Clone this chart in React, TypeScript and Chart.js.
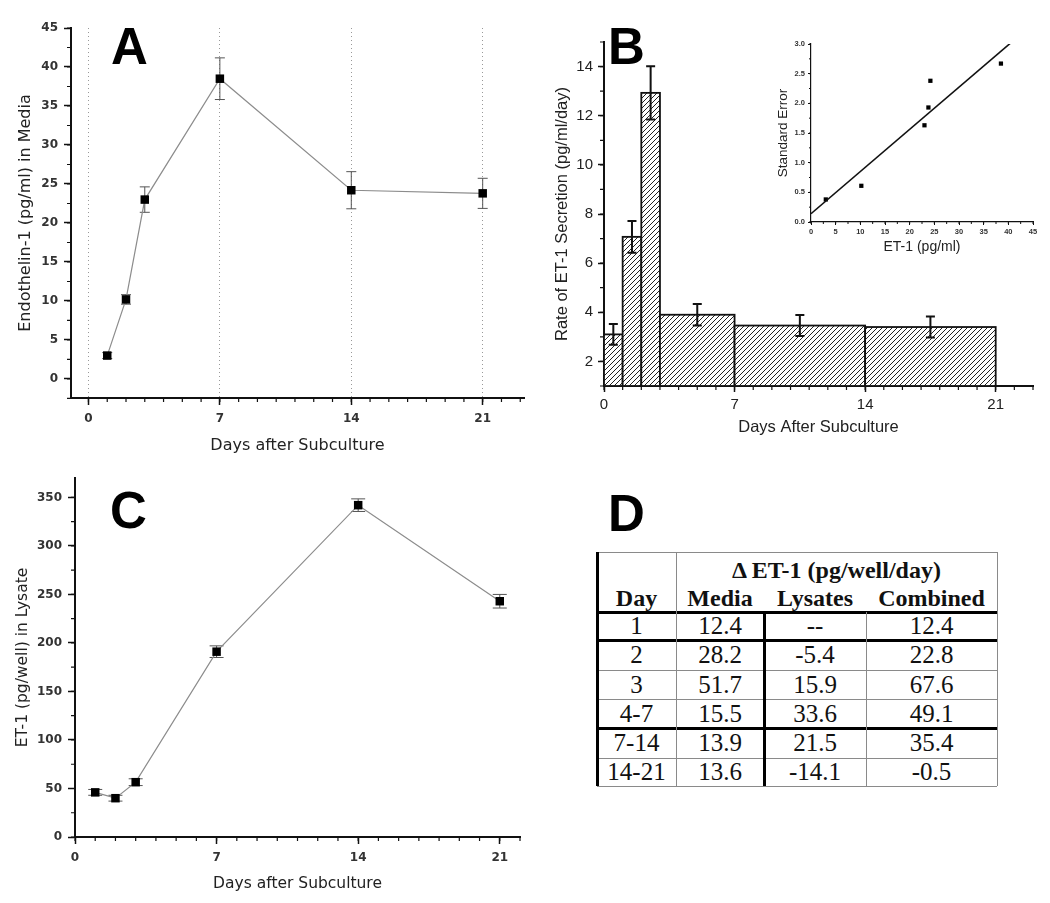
import React, { useEffect, useRef } from 'react';
import { Chart, registerables } from 'chart.js';

Chart.register(...registerables);

// ---------------- data ----------------
const DAYS = [1, 2, 3, 7, 14, 21];
const MEDIA_ET1 = [3.0, 10.2, 23.0, 38.5, 24.2, 23.8];
const MEDIA_SE = [0.38, 0.61, 1.63, 2.67, 2.38, 1.93];

const LYSATE_ET1 = [46, 40, 56.5, 191, 342, 243];
const LYSATE_SE = [3, 3, 3.5, 6, 6.5, 7];

const BIN_START = [0, 1, 2, 3, 7, 14];
const BIN_END = [1, 2, 3, 7, 14, 21];
const RATE = [3.1, 7.07, 12.93, 3.9, 3.46, 3.4];
const RATE_SE = [0.42, 0.65, 1.08, 0.44, 0.43, 0.43];

const FIT_INTERCEPT = 0.14;
const FIT_SLOPE = 0.0711;
const FIT_X = [0, 40.6];

const DAY_TICKS = [0, 7, 14, 21];
const A_Y_TICKS = [0, 5, 10, 15, 20, 25, 30, 35, 40, 45];
const B_Y_TICKS = [2, 4, 6, 8, 10, 12, 14];
const C_Y_TICKS = [0, 50, 100, 150, 200, 250, 300, 350];
const INSET_X_TICKS = [0, 5, 10, 15, 20, 25, 30, 35, 40, 45];
const INSET_Y_TICKS = [0, 0.5, 1.0, 1.5, 2.0, 2.5, 3.0];

const TABLE_DAY = ['1', '2', '3', '4-7', '7-14', '14-21'];
const TABLE_MEDIA = ['12.4', '28.2', '51.7', '15.5', '13.9', '13.6'];
const TABLE_LYSATES = ['--', '-5.4', '15.9', '33.6', '21.5', '-14.1'];
const TABLE_COMBINED = ['12.4', '22.8', '67.6', '49.1', '35.4', '-0.5'];

// ---------------- helpers ----------------
type EB = { x: number[]; y: number[]; err: number[]; cap: number; color: string; width: number; layer: 'before' | 'after' };

function errorBars(o: EB) {
  const draw = (chart: any) => {
    const { ctx } = chart;
    const xs = chart.scales.x;
    const ys = chart.scales.y;
    ctx.save();
    ctx.strokeStyle = o.color;
    ctx.lineWidth = o.width;
    ctx.beginPath();
    for (let i = 0; i < o.x.length; i++) {
      const px = xs.getPixelForValue(o.x[i]);
      const hi = ys.getPixelForValue(o.y[i] + o.err[i]);
      const lo = ys.getPixelForValue(o.y[i] - o.err[i]);
      ctx.moveTo(px, hi);
      ctx.lineTo(px, lo);
      ctx.moveTo(px - o.cap, hi);
      ctx.lineTo(px + o.cap, hi);
      ctx.moveTo(px - o.cap, lo);
      ctx.lineTo(px + o.cap, lo);
    }
    ctx.stroke();
    ctx.restore();
  };
  return {
    id: 'errorBars',
    beforeDatasetsDraw(chart: any) {
      if (o.layer === 'before') draw(chart);
    },
    afterDatasetsDraw(chart: any) {
      if (o.layer === 'after') draw(chart);
    },
  };
}

function histBars(o: { start: number[]; end: number[]; value: number[]; base: number; fill: any; border: string; width: number }) {
  return {
    id: 'histBars',
    beforeDatasetsDraw(chart: any) {
      const { ctx, chartArea } = chart;
      const xs = chart.scales.x;
      const ys = chart.scales.y;
      ctx.save();
      ctx.beginPath();
      ctx.rect(chartArea.left, chartArea.top - 2, chartArea.right - chartArea.left, chartArea.bottom - chartArea.top + 2);
      ctx.clip();
      for (let i = 0; i < o.start.length; i++) {
        const x0 = xs.getPixelForValue(o.start[i]);
        const x1 = xs.getPixelForValue(o.end[i]);
        const y0 = ys.getPixelForValue(o.value[i]);
        const yb = ys.getPixelForValue(o.base);
        ctx.fillStyle = o.fill;
        ctx.fillRect(x0, y0, x1 - x0, yb - y0);
        ctx.strokeStyle = o.border;
        ctx.lineWidth = o.width;
        ctx.strokeRect(x0, y0, x1 - x0, yb - y0);
      }
      ctx.restore();
    },
  };
}

function range(min: number, max: number, step: number) {
  const out: number[] = [];
  for (let v = min; v <= max + 1e-9; v += step) out.push(Math.round(v * 1000) / 1000);
  return out;
}

type MT = { axis: 'x' | 'y'; values: number[]; len: number; width: number };
function minorTicks(list: MT[]) {
  return {
    id: 'minorTicks',
    afterDraw(chart: any) {
      const { ctx, chartArea } = chart;
      ctx.save();
      ctx.strokeStyle = '#111';
      for (const m of list) {
        ctx.lineWidth = m.width;
        ctx.beginPath();
        const sc = chart.scales[m.axis];
        for (const v of m.values) {
          const p = sc.getPixelForValue(v);
          if (m.axis === 'x') {
            if (p < chartArea.left - 0.5 || p > chartArea.right + 0.5) continue;
            ctx.moveTo(p, chartArea.bottom);
            ctx.lineTo(p, chartArea.bottom + m.len);
          } else {
            if (p < chartArea.top - 0.5 || p > chartArea.bottom + 0.5) continue;
            ctx.moveTo(chartArea.left, p);
            ctx.lineTo(chartArea.left - m.len, p);
          }
        }
        ctx.stroke();
      }
      ctx.restore();
    },
  };
}

function hatchPattern(): CanvasPattern | string {
  const c = document.createElement('canvas');
  const s = 5;
  c.width = s;
  c.height = s;
  const g = c.getContext('2d');
  if (!g) return '#fff';
  g.fillStyle = '#fff';
  g.fillRect(0, 0, s, s);
  g.strokeStyle = '#222';
  g.lineWidth = 1;
  g.beginPath();
  g.moveTo(-1, s + 1);
  g.lineTo(s + 1, -1);
  g.moveTo(-1, 1);
  g.lineTo(1, -1);
  g.moveTo(s - 1, s + 1);
  g.lineTo(s + 1, s - 1);
  g.stroke();
  return g.createPattern(c, 'repeat') || '#fff';
}

function fixedTicks(values: number[]) {
  return (scale: any) => {
    scale.ticks = values.map((v) => ({ value: v }));
  };
}

function ChartBox(props: { left: number; top: number; width: number; height: number; make: () => any }) {
  const ref = useRef<HTMLCanvasElement | null>(null);
  useEffect(() => {
    if (!ref.current) return;
    const chart = new Chart(ref.current, props.make());
    return () => chart.destroy();
  }, []);
  return (
    <canvas
      ref={ref}
      width={props.width}
      height={props.height}
      style={{ position: 'absolute', left: props.left, top: props.top, width: props.width, height: props.height }}
    />
  );
}

const TEXT = '#222';

function lineAxisX(opts: {
  min: number; max: number; height: number; font: any; titleFont: any; titlePad: number; tickPad: number; grid: boolean;
}) {
  return {
    type: 'linear',
    position: 'bottom',
    min: opts.min,
    max: opts.max,
    afterBuildTicks: fixedTicks(DAY_TICKS),
    afterFit: (s: any) => { s.height = opts.height; },
    ticks: { autoSkip: false, maxRotation: 0, color: '#333', font: opts.font, padding: opts.tickPad, callback: (v: any) => String(v) },
    grid: {
      display: true,
      drawOnChartArea: opts.grid,
      drawTicks: true,
      tickLength: 7,
      tickColor: '#111',
      tickWidth: 1.5,
      color: '#999',
      lineWidth: 1,
    },
    border: { display: true, color: '#111', width: 2, dash: [1, 3] },
    title: { display: true, text: 'Days after Subculture', color: TEXT, font: opts.titleFont, padding: { top: 0, bottom: opts.titlePad } },
  };
}

// ---------------- Panel A ----------------
function makeA() {
  return {
    type: 'line',
    data: {
      datasets: [
        {
          data: DAYS.map((d, i) => ({ x: d, y: MEDIA_ET1[i] })),
          borderColor: '#8c8c8c',
          borderWidth: 1.2,
          pointStyle: 'rect',
          pointRadius: 6,
          pointBackgroundColor: '#000',
          pointBorderColor: '#000',
          pointBorderWidth: 0,
          tension: 0,
        },
      ],
    },
    options: {
      animation: false,
      responsive: false,
      devicePixelRatio: 1,
      layout: { padding: { top: 28, right: 2, left: 0, bottom: 0 } },
      plugins: { legend: { display: false }, tooltip: { enabled: false } },
      scales: {
        x: lineAxisX({
          min: -0.93, max: 23.2, height: 62,
          font: { family: 'DejaVu Sans', size: 12, weight: 'bold' },
          titleFont: { family: 'DejaVu Sans', size: 16 },
          titlePad: 5, tickPad: 7, grid: true,
        }),
        y: {
          type: 'linear',
          min: -2.44,
          max: 45,
          afterBuildTicks: fixedTicks(A_Y_TICKS),
          afterFit: (s: any) => { s.width = 71; },
          ticks: { color: '#333', font: { family: 'DejaVu Sans', size: 12, weight: 'bold' }, padding: 6 },
          grid: { display: true, drawOnChartArea: false, drawTicks: true, tickLength: 7, tickColor: '#111', tickWidth: 1.5 },
          border: { display: true, color: '#111', width: 2 },
          title: { display: true, text: 'Endothelin-1 (pg/ml) in Media', color: TEXT, font: { family: 'DejaVu Sans', size: 16 }, padding: { top: 16, bottom: 0 } },
        },
      },
    },
    plugins: [
      errorBars({ x: DAYS, y: MEDIA_ET1, err: MEDIA_SE, cap: 5, color: '#555', width: 1, layer: 'before' }),
      minorTicks([
        { axis: 'x', values: range(0, 23, 1), len: 4, width: 1.2 },
        { axis: 'y', values: range(-2.5, 45, 2.5), len: 4, width: 1.2 },
      ]),
    ],
  };
}

// ---------------- Panel B ----------------
const B_Y_MIN = 1;
function makeB() {
  const centers = BIN_START.map((s, i) => (s + BIN_END[i]) / 2);
  return {
    type: 'scatter',
    data: {
      datasets: [
        {
          data: centers.map((c, i) => ({ x: c, y: RATE[i] })),
          pointRadius: 0,
          showLine: false,
        },
      ],
    },
    options: {
      animation: false,
      responsive: false,
      devicePixelRatio: 1,
      layout: { padding: { top: 42, right: 17, left: 0, bottom: 0 } },
      plugins: { legend: { display: false }, tooltip: { enabled: false } },
      scales: {
        x: {
          type: 'linear',
          min: 0,
          max: 23,
          afterBuildTicks: fixedTicks(DAY_TICKS),
          afterFit: (s: any) => { s.height = 74; },
          ticks: { autoSkip: false, maxRotation: 0, color: TEXT, font: { family: 'Liberation Sans', size: 15 }, padding: 4 },
          grid: { display: true, drawOnChartArea: false, drawTicks: true, tickLength: 6, tickColor: '#111', tickWidth: 1.5 },
          border: { display: true, color: '#111', width: 2 },
          title: { display: true, text: 'Days After Subculture', color: TEXT, font: { family: 'Liberation Sans', size: 16.5 }, padding: { top: 0, bottom: 23 } },
        },
        y: {
          type: 'linear',
          min: B_Y_MIN,
          max: 15,
          afterBuildTicks: fixedTicks(B_Y_TICKS),
          afterFit: (s: any) => { s.width = 74; },
          ticks: { color: TEXT, font: { family: 'Liberation Sans', size: 15 }, padding: 5 },
          grid: { display: true, drawOnChartArea: false, drawTicks: true, tickLength: 6, tickColor: '#111', tickWidth: 1.5 },
          border: { display: true, color: '#111', width: 2 },
          title: { display: true, text: 'Rate of ET-1 Secretion (pg/ml/day)', color: TEXT, font: { family: 'Liberation Sans', size: 16.5 }, padding: { top: 23, bottom: 0 } },
        },
      },
    },
    plugins: [
      histBars({ start: BIN_START, end: BIN_END, value: RATE, base: B_Y_MIN, fill: hatchPattern(), border: '#111', width: 1.8 }),
      errorBars({ x: centers, y: RATE, err: RATE_SE, cap: 4.5, color: '#111', width: 2, layer: 'after' }),
      minorTicks([
        { axis: 'x', values: range(0, 23, 1), len: 4, width: 1.2 },
        { axis: 'y', values: range(1, 15, 1), len: 4, width: 1.2 },
      ]),
    ],
  };
}

// ---------------- Inset ----------------
function makeInset() {
  return {
    type: 'scatter',
    data: {
      datasets: [
        {
          type: 'line',
          data: FIT_X.map((x) => ({ x, y: FIT_INTERCEPT + FIT_SLOPE * x })),
          borderColor: '#111',
          borderWidth: 1.6,
          pointRadius: 0,
          tension: 0,
        },
        {
          data: MEDIA_ET1.map((v, i) => ({ x: v, y: MEDIA_SE[i] })),
          pointStyle: 'rect',
          pointRadius: 3,
          pointBackgroundColor: '#000',
          pointBorderWidth: 0,
        },
      ],
    },
    options: {
      animation: false,
      responsive: false,
      devicePixelRatio: 1,
      layout: { padding: { top: 14, right: 7, left: 0, bottom: 0 } },
      plugins: { legend: { display: false }, tooltip: { enabled: false } },
      scales: {
        x: {
          type: 'linear',
          min: 0,
          max: 45,
          afterBuildTicks: fixedTicks(INSET_X_TICKS),
          afterFit: (s: any) => { s.height = 43; },
          ticks: { autoSkip: false, maxRotation: 0, color: '#333', font: { family: 'Liberation Sans', size: 7.5, weight: 'bold' }, padding: 2 },
          grid: { display: true, drawOnChartArea: false, drawTicks: true, tickLength: 3, tickColor: '#111', tickWidth: 1 },
          border: { display: true, color: '#111', width: 1.2 },
          title: { display: true, text: 'ET-1 (pg/ml)', color: TEXT, font: { family: 'Liberation Sans', size: 14 }, padding: { top: 0, bottom: 9 } },
        },
        y: {
          type: 'linear',
          min: 0,
          max: 3,
          afterBuildTicks: fixedTicks(INSET_Y_TICKS),
          afterFit: (s: any) => { s.width = 41; },
          ticks: { color: '#333', font: { family: 'Liberation Sans', size: 7.5, weight: 'bold' }, padding: 3, callback: (v: any) => Number(v).toFixed(1) },
          grid: { display: true, drawOnChartArea: false, drawTicks: true, tickLength: 3, tickColor: '#111', tickWidth: 1 },
          border: { display: true, color: '#111', width: 1.2 },
          title: { display: true, text: 'Standard Error', color: TEXT, font: { family: 'Liberation Sans', size: 13.5 }, padding: { top: 5, bottom: 0 } },
        },
      },
    },
    plugins: [
      minorTicks([
        { axis: 'x', values: range(0, 45, 2.5), len: 2, width: 1 },
        { axis: 'y', values: range(0, 3, 0.25), len: 2, width: 1 },
      ]),
    ],
  };
}

// ---------------- Panel C ----------------
function makeC() {
  return {
    type: 'line',
    data: {
      datasets: [
        {
          data: DAYS.map((d, i) => ({ x: d, y: LYSATE_ET1[i] })),
          borderColor: '#8c8c8c',
          borderWidth: 1.2,
          pointStyle: 'rect',
          pointRadius: 6,
          pointBackgroundColor: '#000',
          pointBorderColor: '#000',
          pointBorderWidth: 0,
          tension: 0,
        },
      ],
    },
    options: {
      animation: false,
      responsive: false,
      devicePixelRatio: 1,
      layout: { padding: { top: 18, right: 10, left: 0, bottom: 0 } },
      plugins: { legend: { display: false }, tooltip: { enabled: false } },
      scales: {
        x: lineAxisX({
          min: 0, max: 22, height: 66,
          font: { family: 'DejaVu Sans', size: 12, weight: 'bold' },
          titleFont: { family: 'DejaVu Sans', size: 15.5 },
          titlePad: 10, tickPad: 7, grid: false,
        }),
        y: {
          type: 'linear',
          min: 0,
          max: 370,
          afterBuildTicks: fixedTicks(C_Y_TICKS),
          afterFit: (s: any) => { s.width = 75; },
          ticks: { color: '#333', font: { family: 'DejaVu Sans', size: 12, weight: 'bold' }, padding: 6 },
          grid: { display: true, drawOnChartArea: false, drawTicks: true, tickLength: 7, tickColor: '#111', tickWidth: 1.5 },
          border: { display: true, color: '#111', width: 2 },
          title: { display: true, text: 'ET-1 (pg/well) in Lysate', color: TEXT, font: { family: 'DejaVu Sans', size: 15.5 }, padding: { top: 14, bottom: 0 } },
        },
      },
    },
    plugins: [
      errorBars({ x: DAYS, y: LYSATE_ET1, err: LYSATE_SE, cap: 7, color: '#555', width: 1, layer: 'before' }),
      minorTicks([
        { axis: 'x', values: range(0, 22, 1), len: 4, width: 1.2 },
        { axis: 'y', values: range(0, 370, 25), len: 4, width: 1.2 },
      ]),
    ],
  };
}

// ---------------- Table D ----------------
const COL_X = [597, 676, 764, 866, 997];
const ROW_Y = [552, 612, 640, 670, 699, 728, 758, 786];
const THICK_ROWS = [1, 2, 5];

function TableD() {
  const serif = '"Liberation Serif", "Times New Roman", serif';
  const els: any[] = [];
  const thin = '#8a8a8a';
  ROW_Y.forEach((y, i) => {
    const thick = THICK_ROWS.includes(i);
    els.push(
      <div key={'h' + i} style={{ position: 'absolute', left: COL_X[0], top: y - (thick ? 1.5 : 0.5), width: COL_X[4] - COL_X[0], height: thick ? 3 : 1, background: thick ? '#000' : thin }} />
    );
  });
  els.push(<div key="v0" style={{ position: 'absolute', left: COL_X[0] - 1.5, top: ROW_Y[0], width: 3, height: ROW_Y[7] - ROW_Y[0], background: '#000' }} />);
  els.push(<div key="v1" style={{ position: 'absolute', left: COL_X[1] - 0.5, top: ROW_Y[0], width: 1, height: ROW_Y[7] - ROW_Y[0], background: thin }} />);
  els.push(<div key="v2" style={{ position: 'absolute', left: COL_X[2] - 1.5, top: ROW_Y[1], width: 3, height: ROW_Y[7] - ROW_Y[1], background: '#000' }} />);
  els.push(<div key="v3" style={{ position: 'absolute', left: COL_X[3] - 0.5, top: ROW_Y[1], width: 1, height: ROW_Y[7] - ROW_Y[1], background: thin }} />);
  els.push(<div key="v4" style={{ position: 'absolute', left: COL_X[4] - 0.5, top: ROW_Y[0], width: 1, height: ROW_Y[7] - ROW_Y[0], background: thin }} />);

  const cell = (key: string, text: string, x0: number, x1: number, cy: number, bold: boolean, size: number) => (
    <div
      key={key}
      style={{
        position: 'absolute', left: x0, width: x1 - x0, top: cy - 15, height: 30, lineHeight: '30px',
        textAlign: 'center', fontFamily: serif, fontSize: size, fontWeight: bold ? 'bold' : 'normal', color: '#111', whiteSpace: 'nowrap',
      }}
    >
      {text}
    </div>
  );
  els.push(cell('hd', '\u0394 ET-1 (pg/well/day)', COL_X[1], COL_X[4], 570, true, 24));
  els.push(cell('h0', 'Day', COL_X[0], COL_X[1], 598, true, 24));
  els.push(cell('h1', 'Media', COL_X[1], COL_X[2], 598, true, 24));
  els.push(cell('h2', 'Lysates', COL_X[2], COL_X[3], 598, true, 24));
  els.push(cell('h3', 'Combined', COL_X[3], COL_X[4], 598, true, 24));
  const cols = [TABLE_DAY, TABLE_MEDIA, TABLE_LYSATES, TABLE_COMBINED];
  for (let r = 0; r < TABLE_DAY.length; r++) {
    const cy = (ROW_Y[r + 1] + ROW_Y[r + 2]) / 2;
    cols.forEach((col, c) => els.push(cell('c' + r + '_' + c, col[r], COL_X[c], COL_X[c + 1], cy, false, 25)));
  }
  return <>{els}</>;
}

function Letter(props: { ch: string; left: number; top: number }) {
  return (
    <div
      style={{
        position: 'absolute', left: props.left, top: props.top, fontFamily: '"Liberation Sans", Arial, sans-serif',
        fontWeight: 'bold', fontSize: 51, lineHeight: '51px', color: '#000',
      }}
    >
      {props.ch}
    </div>
  );
}

export default function App() {
  return (
    <div style={{ position: 'absolute', left: 0, top: 0, width: 1050, height: 903, background: '#fff', overflow: 'hidden' }}>
      <ChartBox left={0} top={0} width={530} height={460} make={makeA} />
      <ChartBox left={530} top={0} width={520} height={460} make={makeB} />
      <ChartBox left={770} top={30} width={270} height={235} make={makeInset} />
      <ChartBox left={0} top={460} width={530} height={443} make={makeC} />
      <TableD />
      <Letter ch="A" left={111} top={21} />
      <Letter ch="B" left={608} top={21} />
      <Letter ch="C" left={110} top={485} />
      <Letter ch="D" left={608} top={488} />
    </div>
  );
}
